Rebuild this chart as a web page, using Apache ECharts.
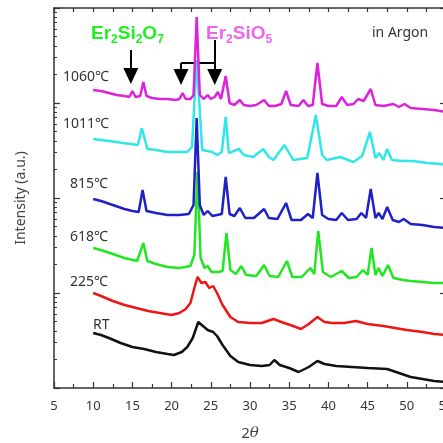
<!DOCTYPE html>
<html>
<head>
<meta charset="utf-8">
<script src="https://cdn.jsdelivr.net/npm/echarts@6/dist/echarts.min.js"></script>
<style>
html, body { margin: 0; padding: 0; background: #fff; }
#chart { width: 443px; height: 443px; }
</style>
</head>
<body>
<div id="chart"></div>
<script>
// 2theta (deg) vs intensity (a.u., stacked offsets)
var rt = [[10,55],[11,53],[12,50],[13.5,45],[15,41],[16.5,39],[18,36],[19.5,34],[20.3,33],[21.3,36],[22,41],[22.7,50],[23.4,66],[24,62],[24.6,58],[25.3,56],[25.8,52],[26.5,43],[27.5,32],[28.5,26],[30,23],[31.5,22],[32.5,23],[33.1,28],[33.8,23],[35,20],[36.2,16],[37.5,21],[38.6,27],[39.5,24],[41,22],[43,21],[45,20],[47.5,19],[49,15],[50.5,11],[52,9],[53.5,7],[55,6]];
var t225 = [[10,95],[11,92],[12.5,87],[14,83],[15.5,80],[17,77],[18.5,75],[20,73],[21,75],[21.8,79],[22.4,85],[22.9,100],[23.3,111],[23.8,105],[24.3,106],[24.8,100],[25.3,102],[25.8,95],[26.5,83],[27.5,71],[28.5,66],[30,65],[31.5,65],[33,69],[34,66],[35.5,62],[36.5,59],[37.5,64],[38.6,71],[39.5,66],[40.5,65],[42,65],[43.5,67],[45,64],[47,62],[48.5,60],[50,58],[52,56],[53.5,54],[55,53]];
var t618 = [[10,140],[11,138],[12.5,134],[14,130],[15.6,127],[16.4,145],[16.9,127],[18,124],[19.5,121],[21,120],[22.4,122],[22.9,133],[23.3,216],[23.7,130],[24.2,120],[24.6,122],[25.1,116],[26,116],[26.5,117],[27,155],[27.5,118],[28.2,114],[28.9,122],[29.5,113],[30.8,112],[31.8,123],[32.5,112],[33.6,111],[34.7,127],[35.4,111],[36.6,111],[37.7,120],[38.2,114],[38.7,157],[39.3,116],[40.3,111],[41.7,117],[42.6,110],[43.6,111],[44.4,118],[45,113],[45.5,140],[46,113],[46.4,120],[46.9,112],[47.6,123],[48.3,110],[49.5,108],[50.5,107],[52,106],[53.5,105],[55,105]];
var t815 = [[10,189],[11,187],[12.5,183],[14,179],[15,177],[15.8,176],[16.3,198],[16.8,177],[18,175],[19.5,173],[21,173],[22.2,174],[22.8,183],[23.2,270],[23.6,183],[24.1,173],[24.6,177],[25.2,172],[25.8,173],[26.4,174],[26.9,211],[27.4,174],[28,172],[28.7,180],[29.4,170],[30.5,170],[31.8,179],[32.4,170],[33.5,169],[34.6,185],[35.3,168],[36.5,168],[37.4,174],[38,170],[38.6,215],[39.2,173],[40,169],[41,168],[41.7,175],[42.5,168],[43.6,169],[44.2,175],[44.8,170],[45.4,199],[46,170],[46.4,175],[46.9,169],[47.5,181],[48.2,168],[49,166],[49.6,169],[50.5,164],[52,163],[53.5,161],[55,160]];
var t1011 = [[10,249],[12,247],[13.8,245],[15.7,243],[16.2,260],[16.9,239],[18,238],[19.4,236],[22,236],[22.6,241],[23.2,328],[23.9,238],[25.2,236],[25.8,233],[26.4,236],[26.9,271],[27.3,235],[28.6,239],[29.2,233],[30.4,231],[31.7,239],[32.4,231],[33,228],[34.4,243],[35.5,228],[37.3,230],[38.4,273],[39.2,233],[39.8,228],[41.5,231],[43.2,226],[44.3,232],[45.3,256],[46,230],[46.5,235],[47,228],[47.5,239],[48.1,228],[49.5,227],[50.8,227],[52.6,225],[54.3,224],[55,223]];
var t1060 = [[10,298],[11,297],[12,295],[13,293],[14,292],[14.6,291],[15,297],[15.4,291],[16,292],[16.4,306],[16.8,292],[17.5,290],[18.5,289],[19.5,289],[20.5,288],[21,289],[21.4,295],[21.8,289],[22.4,289],[22.8,293],[23.2,371],[23.6,293],[24.1,289],[24.6,293],[25,289],[25.5,291],[25.9,296],[26.3,289],[26.9,312],[27.4,285],[28,283],[28.7,288],[29.2,283],[30,282],[30.8,283],[31.8,288],[32.4,282],[33.2,282],[34,284],[34.6,297],[35.2,283],[36.2,282],[36.8,288],[37.4,282],[38,283],[38.6,325],[39.2,284],[40,282],[41,282],[41.7,291],[42.4,283],[43.2,284],[43.8,289],[44.5,287],[45.4,299],[46,283],[47,282],[48.3,284],[49,281],[49.7,284],[50.5,280],[52,279],[53.5,278],[55,276]];

var names = ['RT', '225℃', '618℃', '815℃', '1011℃', '1060℃'];
var colors = ['#111111', '#ee1515', '#22e622', '#2020c8', '#30e6e6', '#dd22dd'];
var curves = [rt, t225, t618, t815, t1011, t1060];

var chart = echarts.init(document.getElementById('chart'));

var series = curves.map(function (d, i) {
    return {
        name: names[i],
        type: 'line',
        data: d,
        showSymbol: false,
        lineStyle: { color: colors[i], width: 2.5 },
        itemStyle: { color: colors[i] },
        silent: true,
        z: 3 + i
    };
});

// arrows marking the phase peaks
series[5].markLine = {
    silent: true,
    symbol: ['none', 'triangle'],
    symbolSize: [15, 16],
    label: { show: false },
    lineStyle: { color: '#000', width: 2, type: 'solid' },
    data: [
        [{ coord: [14.8, 338] }, { coord: [14.8, 312] }],
        [{ coord: [25.5, 348] }, { coord: [25.5, 311] }],
        [{ coord: [21.2, 325] }, { coord: [21.2, 311] }],
        [{ coord: [21.2, 325], symbol: 'none' }, { coord: [25.5, 325], symbol: 'none' }]
    ]
};

var labelFont = '14px "Noto Sans", sans-serif';
var tempLabels = [
    { t: '1060℃', x: 63, y: 77 },
    { t: '1011℃', x: 63, y: 124 },
    { t: '815℃', x: 70, y: 184 },
    { t: '618℃', x: 70, y: 237 },
    { t: '225℃', x: 70, y: 282 },
    { t: 'RT', x: 93, y: 325 }
];

var graphics = tempLabels.map(function (l) {
    return {
        type: 'text', x: l.x, y: l.y, silent: true,
        style: { text: l.t, font: labelFont, fill: '#333', verticalAlign: 'middle' }
    };
});

function formula(parts, color) {
    var rich = {
        a: { fontSize: 19, fontWeight: 'bold', fontFamily: 'Liberation Sans', fill: color, color: color, lineHeight: 24 },
        s: { fontSize: 12, fontWeight: 'bold', fontFamily: 'Liberation Sans', fill: color, color: color, lineHeight: 12, verticalAlign: 'bottom' }
    };
    return { text: parts, rich: rich };
}

var f1 = formula('{a|Er}{s|2}{a|Si}{s|2}{a|O}{s|7}', '#22ee22');
var f2 = formula('{a|Er}{s|2}{a|SiO}{s|5}', '#ee66ee');
graphics.push({ type: 'text', x: 91, y: 34, silent: true, style: { text: f1.text, rich: f1.rich, verticalAlign: 'middle' } });
graphics.push({ type: 'text', x: 206, y: 34, silent: true, style: { text: f2.text, rich: f2.rich, verticalAlign: 'middle' } });
graphics.push({ type: 'text', x: 372, y: 33, silent: true, style: { text: 'in Argon', font: labelFont, fill: '#333', verticalAlign: 'middle' } });

var axisColor = '#333';

var option = {
    animation: false,
    backgroundColor: '#fff',
    grid: { left: 54, right: -3, top: 8, bottom: 55, outerBoundsMode: 'none', containLabel: false },
    xAxis: [{
        type: 'value', min: 5, max: 55, interval: 5,
        name: '{n|2}{t|θ}', nameLocation: 'middle', nameGap: 38,
        nameTextStyle: { rich: {
            n: { fontSize: 15, color: '#444', fontFamily: 'Noto Sans' },
            t: { fontSize: 15, color: '#444', fontStyle: 'italic', fontFamily: 'DejaVu Serif' }
        } },
        axisLine: { lineStyle: { color: axisColor, width: 1.5 } },
        axisTick: { inside: true, length: 6, lineStyle: { color: axisColor, width: 1.2 } },
        minorTick: { show: true, splitNumber: 2, length: 4, lineStyle: { color: axisColor, width: 1.2 } },
        axisLabel: { color: '#333', fontSize: 13, margin: 12, fontFamily: 'Noto Sans', hideOverlap: false },
        splitLine: { show: false }
    }, {
        type: 'value', position: 'top', min: 5, max: 55, interval: 2.5,
        axisLine: { lineStyle: { color: axisColor, width: 1.5 } },
        axisTick: { inside: true, length: 4, lineStyle: { color: axisColor, width: 1.2 } },
        axisLabel: { show: false },
        splitLine: { show: false }
    }],
    yAxis: [{
        type: 'value', min: 0, max: 380, show: false
    }, {
        type: 'log', logBase: 10, min: 1, max: 10000, position: 'left',
        name: 'Intensity (a.u.)', nameLocation: 'middle', nameGap: 26,
        nameTextStyle: { color: '#444', fontSize: 14, fontFamily: 'Noto Sans' },
        axisLine: { show: true, lineStyle: { color: axisColor, width: 1.5 } },
        axisTick: { inside: true, length: 6, lineStyle: { color: axisColor, width: 1.2 } },
        minorTick: { show: true, splitNumber: 9, length: 3, lineStyle: { color: axisColor, width: 1 } },
        axisLabel: { show: false },
        splitLine: { show: false }
    }, {
        type: 'log', logBase: 10, min: 1, max: 10000, position: 'right',
        axisLine: { show: true, lineStyle: { color: axisColor, width: 1.5 } },
        axisTick: { inside: true, length: 6, lineStyle: { color: axisColor, width: 1.2 } },
        minorTick: { show: true, splitNumber: 9, length: 3, lineStyle: { color: axisColor, width: 1 } },
        axisLabel: { show: false },
        splitLine: { show: false }
    }],
    series: series,
    graphic: graphics
};

chart.setOption(option);
window.onresize = chart.resize;
</script>
</body>
</html>
